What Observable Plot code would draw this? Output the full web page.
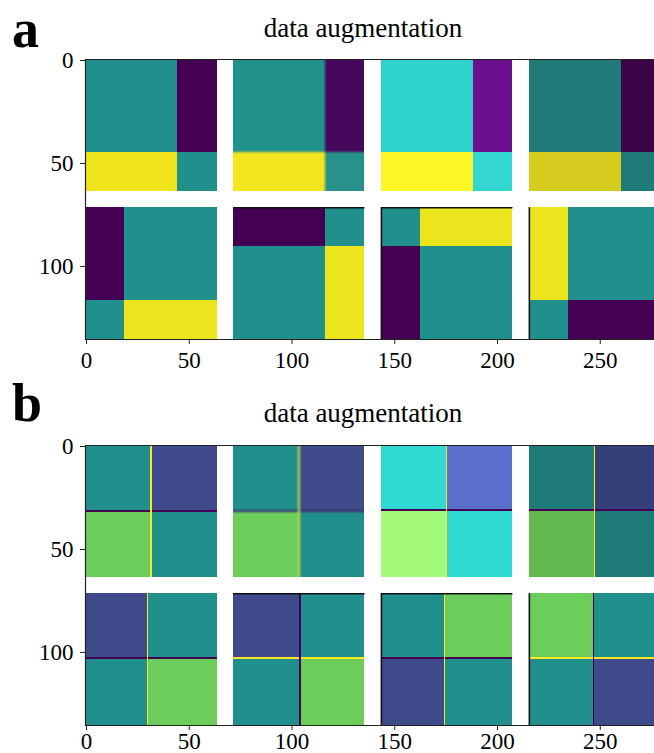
<!DOCTYPE html>
<html>
<head>
<meta charset="utf-8">
<script src="https://cdn.jsdelivr.net/npm/d3@7"></script>
<script src="https://cdn.jsdelivr.net/npm/@observablehq/plot@0.6"></script>
<style>
  body { margin: 0; background: #fff; }
  #wrap { position: relative; width: 654px; height: 753px; overflow: hidden;
          font-family: "Liberation Serif", "Times New Roman", serif; color: #000; }
  .letter { position: absolute; font-weight: bold; font-size: 54px; line-height: 0.9; }
  .title { position: absolute; left: 0; width: 726px; text-align: center; font-size: 27px; line-height: 1; }
  .panel { position: absolute; left: 0; }
</style>
</head>
<body>
<div id="wrap"></div>
<script>
// ---------------- data ----------------
const panelLetters = ["a", "b"];
const titleText = "data augmentation";
const xTicks = [0, 50, 100, 150, 200, 250];
const yTicks = [0, 50, 100];

// tile grid (8 tiles, 2 rows x 4 columns, 64 px each, 8 px gaps)
const tileCol = [0, 1, 2, 3, 0, 1, 2, 3];
const tileRow = [0, 0, 0, 0, 1, 1, 1, 1];
const tileSize = 64;
const tileStep = 72;
const blurredTile = 1;          // the second tile is blurred
const edgeTopTiles = [5, 6];    // tiles with a dark top border
const edgeLeftTiles = [6, 7];   // tiles with a dark left border

// panel a: block split positions inside each tile and block colours
const aSplitX = [45, 45, 45, 45, 19, 45, 19, 19];
const aSplitY = [45, 45, 45, 45, 45, 19, 19, 45];
const aTopLeft     = ["#21908d", "#21918c", "#2fd3cd", "#1f7a78", "#440154", "#440154", "#21908d", "#ece41c"];
const aTopRight    = ["#440154", "#46085c", "#6a0f8e", "#3a0447", "#21908d", "#21908d", "#ece41c", "#21908d"];
const aBottomLeft  = ["#f0e41d", "#f4e61e", "#fcf724", "#d6cb1f", "#21908d", "#21908d", "#440154", "#21908d"];
const aBottomRight = ["#21908d", "#26928a", "#33d6d0", "#1f7a78", "#ece41c", "#ece41c", "#21908d", "#440154"];

// panel b
const bSplitX = [32, 32, 32, 32, 30.5, 32.5, 31, 31.5];
const bSplitY = [32, 32, 31.5, 31.5, 31.5, 31.5, 31.5, 31.5];
const bTopLeft     = ["#21908d", "#21908d", "#2fd8d0", "#1e7b78", "#3e4a89", "#3e4a89", "#21908d", "#6ccd5a"];
const bTopRight    = ["#3e4a89", "#3e4a89", "#5b6ecb", "#343f7a", "#21908d", "#21908d", "#6ccd5a", "#21908d"];
const bBottomLeft  = ["#6ccd5a", "#6ccd5a", "#a2fa78", "#63b74f", "#21908d", "#21908d", "#3e4a89", "#21908d"];
const bBottomRight = ["#21908d", "#21908d", "#2fd8d0", "#1e7b78", "#6ccd5a", "#6ccd5a", "#21908d", "#3e4a89"];
const bVLine = ["#fde725", "#c8df3a", "#fde725", "#fde725", "#fde725", "#440154", "#fde725", "#440154"];
const bHLine = ["#440154", "#3b2a6e", "#440154", "#440154", "#440154", "#fde725", "#440154", "#fde725"];

// ---------------- build tables ----------------
const tx0 = i => tileCol[i] * tileStep - 0.5;
const ty0 = i => tileRow[i] * tileStep - 0.5;

function blocks(splitX, splitY, TL, TR, BL, BR, vLine, hLine) {
  const out = [];
  for (let i = 0; i < tileCol.length; i++) {
    const x0 = tx0(i), y0 = ty0(i), sx = x0 + splitX[i], sy = y0 + splitY[i];
    const x1 = x0 + tileSize, y1 = y0 + tileSize;
    out.push({tile: i, x1: x0, x2: sx, y1: y0, y2: sy, fill: TL[i]});
    out.push({tile: i, x1: sx, x2: x1, y1: y0, y2: sy, fill: TR[i]});
    out.push({tile: i, x1: x0, x2: sx, y1: sy, y2: y1, fill: BL[i]});
    out.push({tile: i, x1: sx, x2: x1, y1: sy, y2: y1, fill: BR[i]});
    if (hLine) out.push({tile: i, x1: x0, x2: x1, y1: sy - 0.45, y2: sy + 0.45, fill: hLine[i]});
    if (vLine) out.push({tile: i, x1: sx - 0.4, x2: sx + 0.4, y1: y0, y2: y1, fill: vLine[i]});
  }
  return out;
}

const xMin = -0.5, xMax = 276.4, yMin = -0.5, yMax = 135.5;

// blur that keeps the outer edges of the tiles sharp
function addBlurFilter(svg, id, std) {
  const ns = "http://www.w3.org/2000/svg";
  let defs = svg.querySelector("defs");
  if (!defs) { defs = document.createElementNS(ns, "defs"); svg.insertBefore(defs, svg.firstChild); }
  const filter = document.createElementNS(ns, "filter");
  filter.setAttribute("id", id);
  filter.setAttribute("color-interpolation-filters", "sRGB");
  const blur = document.createElementNS(ns, "feGaussianBlur");
  blur.setAttribute("in", "SourceGraphic");
  blur.setAttribute("stdDeviation", String(std));
  blur.setAttribute("result", "b");
  const ct = document.createElementNS(ns, "feComponentTransfer");
  ct.setAttribute("in", "b");
  ct.setAttribute("result", "opaque");
  const fa = document.createElementNS(ns, "feFuncA");
  fa.setAttribute("type", "linear"); fa.setAttribute("slope", "0"); fa.setAttribute("intercept", "1");
  ct.appendChild(fa);
  const comp = document.createElementNS(ns, "feComposite");
  comp.setAttribute("in", "opaque");
  comp.setAttribute("in2", "SourceGraphic");
  comp.setAttribute("operator", "in");
  filter.appendChild(blur); filter.appendChild(ct); filter.appendChild(comp);
  defs.appendChild(filter);
}

function panel(data, marginTop, marginBottom, height, prefix, xPad, softStd) {
  const rectOpts = {x1: "x1", x2: "x2", y1: "y1", y2: "y2", fill: "fill", shapeRendering: "crispEdges"};
  const svg = Plot.plot({
    width: 654, height, marginLeft: 85, marginRight: 0, marginTop, marginBottom,
    style: {fontFamily: "Liberation Serif, Times New Roman, serif", fontSize: "23px", color: "#000", background: "transparent", overflow: "hidden"},
    x: {domain: [xMin, xMax], label: null},
    y: {domain: [yMin, yMax], reverse: true, label: null},
    color: {type: "identity"},
    marks: [
      Plot.rect(data.filter(d => d.tile !== blurredTile), {...rectOpts, clip: true, ariaDescription: "tiles"}),
      Plot.rect(data.filter(d => d.tile === blurredTile), {...rectOpts, ariaDescription: "blurred tile"}),
      Plot.ruleY(edgeTopTiles, {y: i => ty0(i), x1: i => tx0(i), x2: i => tx0(i) + tileSize, stroke: "#111", strokeWidth: 1.6}),
      Plot.ruleX(edgeLeftTiles, {x: i => tx0(i), y1: i => ty0(i), y2: i => ty0(i) + tileSize, stroke: "#111", strokeWidth: 1.6}),
      Plot.ruleY([yMin, yMax], {x1: xMin, x2: xMax, stroke: "#222", strokeWidth: 1.2}),
      Plot.ruleX([xMin], {y1: yMin, y2: yMax, stroke: "#222", strokeWidth: 1.2}),
      Plot.axisX({ticks: xTicks, tickSize: 5, tickPadding: xPad, fontSize: 23, label: null, stroke: "#222"}),
      Plot.axisY({ticks: yTicks, tickSize: 5, tickPadding: 7, fontSize: 23, label: null, stroke: "#222"})
    ]
  });
  addBlurFilter(svg, prefix + "-blur", 1.3);
  svg.querySelectorAll('[aria-description="blurred tile"]').forEach(g => g.setAttribute("filter", `url(#${prefix}-blur)`));
  if (softStd > 0) {
    addBlurFilter(svg, prefix + "-soft", softStd);
    svg.querySelectorAll('[aria-description="tiles"]').forEach(g => {
      // wrap so the clip and the filter do not interfere
      const ns = "http://www.w3.org/2000/svg";
      const wrapG = document.createElementNS(ns, "g");
      wrapG.setAttribute("filter", `url(#${prefix}-soft)`);
      g.parentNode.insertBefore(wrapG, g);
      wrapG.appendChild(g);
    });
  }
  return svg;
}

// ---------------- layout ----------------
const wrap = document.getElementById("wrap");
function addDiv(cls, text, left, top) {
  const d = document.createElement("div");
  d.className = cls; d.textContent = text;
  if (left != null) d.style.left = left + "px";
  d.style.top = top + "px";
  wrap.appendChild(d);
}

const dataA = blocks(aSplitX, aSplitY, aTopLeft, aTopRight, aBottomLeft, aBottomRight, null, null);
const dataB = blocks(bSplitX, bSplitY, bTopLeft, bTopRight, bBottomLeft, bBottomRight, bVLine, bHLine);

const svgA = panel(dataA, 59, 37, 376, "pa", 7, 0.6);
svgA.classList.add("panel"); svgA.style.top = "0px";
wrap.appendChild(svgA);

const svgB = panel(dataB, 69, 28, 377, "pb", 2, 0);
svgB.classList.add("panel"); svgB.style.top = "376px";
wrap.appendChild(svgB);

addDiv("title", titleText, null, 15);
addDiv("title", titleText, null, 400);
addDiv("letter", panelLetters[0], 12, 5);
addDiv("letter", panelLetters[1], 12, 379);
</script>
</body>
</html>
